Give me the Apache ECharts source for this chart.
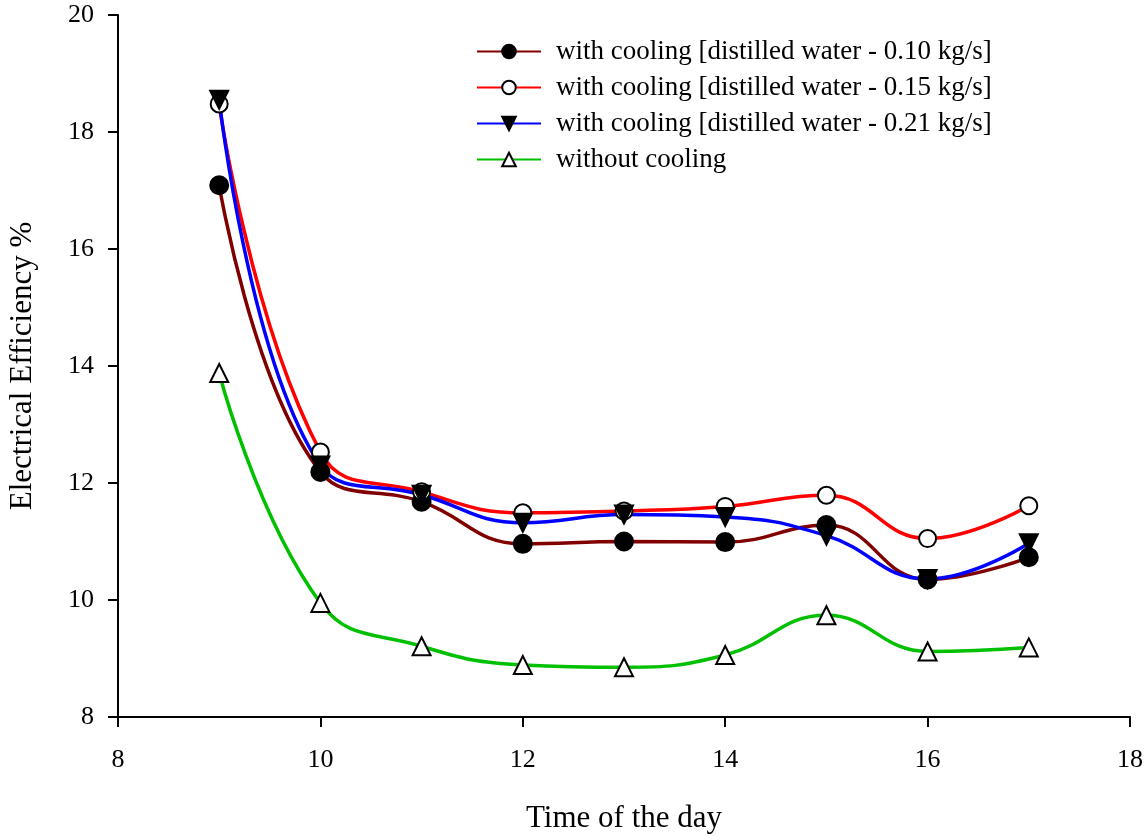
<!DOCTYPE html>
<html>
<head>
<meta charset="utf-8">
<script src="https://cdn.jsdelivr.net/npm/echarts@6/dist/echarts.min.js"></script>
<style>
  html, body { margin: 0; padding: 0; background: #fff; }
  #chart { width: 1147px; height: 836px; }
</style>
</head>
<body>
<div id="chart"></div>
<script>
// time of the day (h)
const hours = [9, 10, 11, 12, 13, 14, 15, 16, 17];

// electrical efficiency %
const flow010 = [17.09, 12.19, 11.68, 10.96, 11.0, 10.99, 11.28, 10.35, 10.73];
const flow015 = [18.48, 12.53, 11.85, 11.49, 11.52, 11.6, 11.79, 11.05, 11.61];
const flow021 = [18.55, 12.3, 11.8, 11.32, 11.46, 11.42, 11.1, 10.36, 10.97];
const noCooling = [13.88, 9.95, 9.21, 8.89, 8.85, 9.06, 9.74, 9.12, 9.19];

const seriesNames = [
  "with cooling [distilled water - 0.10 kg/s]",
  "with cooling [distilled water - 0.15 kg/s]",
  "with cooling [distilled water - 0.21 kg/s]",
  "without cooling"
];

const font = "'Liberation Serif', 'Times New Roman', serif";

const pairs = arr => hours.map((h, i) => [h, arr[i]]);

const makeSeries = (name, data, lineColor, symbol, rotate, fill, size) => ({
  name: name,
  type: "line",
  data: pairs(data),
  smooth: 0.45,
  symbol: symbol,
  symbolRotate: rotate,
  symbolSize: size,
  lineStyle: { color: lineColor, width: 3.5 },
  itemStyle: { color: fill, borderColor: "#000", borderWidth: 2 },
  emphasis: { disabled: true }
});

const chart = echarts.init(document.getElementById("chart"));
chart.setOption({
  animation: false,
  backgroundColor: "#fff",
  textStyle: { fontFamily: font },
  legend: {
    left: 471,
    top: 33,
    orient: "vertical",
    itemWidth: 64,
    itemHeight: 17,
    itemGap: 9,
    textStyle: { fontFamily: font, fontSize: 27, color: "#000", padding: [0, 0, 0, 10] },
    data: seriesNames
  },
  grid: { left: 118, right: 17, top: 15, bottom: 119, outerBoundsMode: "none", containLabel: false },
  xAxis: {
    type: "value",
    min: 8,
    max: 18,
    interval: 2,
    name: "Time of the day",
    nameLocation: "middle",
    nameGap: 86,
    nameTextStyle: { fontFamily: font, fontSize: 31, color: "#000" },
    axisLine: { lineStyle: { color: "#000", width: 2 } },
    axisTick: { inside: false, length: 10, lineStyle: { color: "#000", width: 2 } },
    axisLabel: { margin: 30, fontFamily: font, fontSize: 26, color: "#000" },
    splitLine: { show: false }
  },
  yAxis: {
    type: "value",
    min: 8,
    max: 20,
    interval: 2,
    name: "Electrical Efficiency %",
    nameLocation: "middle",
    nameRotate: 90,
    nameGap: 80,
    nameTextStyle: { fontFamily: font, fontSize: 31, color: "#000" },
    axisLine: { show: true, lineStyle: { color: "#000", width: 2 } },
    axisTick: { show: true, inside: false, length: 10, lineStyle: { color: "#000", width: 2 } },
    axisLabel: { margin: 24, fontFamily: font, fontSize: 26, color: "#000" },
    splitLine: { show: false }
  },
  series: [
    makeSeries(seriesNames[0], flow010, "#800000", "circle", 0, "#000", 18),
    makeSeries(seriesNames[1], flow015, "#ff0000", "circle", 0, "#fff", 17),
    makeSeries(seriesNames[2], flow021, "#0000ff", "triangle", 180, "#000", 18),
    makeSeries(seriesNames[3], noCooling, "#00c000", "triangle", 0, "#fff", 18)
  ]
});
</script>
</body>
</html>
